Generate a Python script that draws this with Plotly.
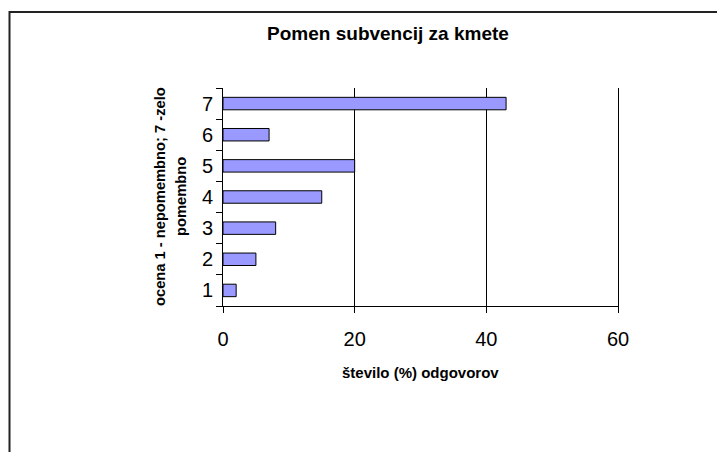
import plotly.graph_objects as go

categories = ["1", "2", "3", "4", "5", "6", "7"]
values = [2, 5, 8, 15, 20, 7, 43]
x_ticks = [0, 20, 40, 60]

title_text = "Pomen subvencij za kmete"
y_title_1 = "ocena 1 - nepomembno; 7 -zelo"
y_title_2 = "pomembno"
x_title = "število (%) odgovorov"

FONT = "Liberation Sans, Arial, sans-serif"
OFF = 8  # page body margin
W, H = 725 - OFF, 452 - OFF
L, T = 223 - OFF, 88 - OFF
pw, ph = 395, 218
R, B = W - L - pw, H - T - ph

def px(x):
    # page x -> paper coordinate
    return (x - OFF - L) / pw

def py(y):
    # page y -> paper coordinate
    return (T + ph - (y - OFF)) / ph

fig = go.Figure()
fig.add_trace(go.Bar(
    y=categories, x=values, orientation="h", width=0.4,
    marker=dict(color="#9999FF", line=dict(color="black", width=1)),
    hoverinfo="skip",
))

fig.update_layout(
    width=W, height=H,
    margin=dict(l=L, r=R, t=T, b=B, pad=0),
    paper_bgcolor="white", plot_bgcolor="white",
    showlegend=False,
    font=dict(family=FONT, color="black"),
    title=dict(text="<b>" + title_text + "</b>", xref="container", yref="container",
               x=(388 - OFF) / W, y=1 - (33 - OFF) / H, xanchor="center", yanchor="middle",
               font=dict(size=19, family=FONT, color="black")),
    xaxis=dict(range=[0, 60], tickvals=x_ticks, ticks="outside", ticklen=6,
               tickcolor="black", tickwidth=1, showline=True, linecolor="black",
               linewidth=1, showgrid=True, gridcolor="black", gridwidth=1,
               zeroline=False, tickfont=dict(size=20, family=FONT, color="black"),
               ticklabelstandoff=9, fixedrange=True),
    yaxis=dict(type="category", categoryorder="array", categoryarray=categories,
               range=[-0.5, 6.5], ticks="outside", tickson="boundaries", ticklen=6,
               tickcolor="black", tickwidth=1, showline=True, linecolor="black",
               linewidth=1, mirror=True, showgrid=False, zeroline=False,
               tickfont=dict(size=20, family=FONT, color="black"),
               ticklabelstandoff=5, fixedrange=True),
    shapes=[dict(type="rect", xref="paper", yref="paper",
                 x0=px(9.5), x1=px(760), y0=py(480), y1=py(12),
                 line=dict(color="#222222", width=2), fillcolor="rgba(0,0,0,0)",
                 layer="below")],
    annotations=[
        dict(text="<b>" + y_title_1 + "</b>", xref="paper", yref="paper",
             x=px(160), y=0.5, xanchor="center", yanchor="middle", textangle=-90,
             showarrow=False, font=dict(size=14.7, family=FONT, color="black")),
        dict(text="<b>" + y_title_2 + "</b>", xref="paper", yref="paper",
             x=px(181), y=0.5, xanchor="center", yanchor="middle", textangle=-90,
             showarrow=False, font=dict(size=14.7, family=FONT, color="black")),
        dict(text="<b>" + x_title + "</b>", xref="paper", yref="paper",
             x=0.5, y=py(372), xanchor="center", yanchor="middle",
             showarrow=False, font=dict(size=15, family=FONT, color="black")),
    ],
)

fig.write_html("out.html", config={"displayModeBar": False})
